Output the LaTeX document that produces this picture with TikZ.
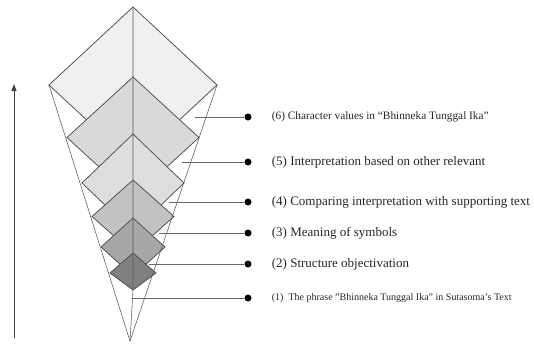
\documentclass[tikz,border=0pt]{standalone}
\usepackage{fontspec}
\setmainfont{Liberation Serif}
\usetikzlibrary{arrows.meta,positioning}
\tikzset{dia/.style={draw=black!70,line width=0.75pt,line join=miter},cone/.style={draw=black!65,line width=0.55pt},lead/.style={draw=black!60,line width=0.8pt},dot/.style={circle,fill=black,inner sep=0pt,minimum size=7pt},lab/.style={inner sep=0pt,anchor=west,text=black!85,font=\fontsize{13}{15}\selectfont}}
\begin{document}
\begin{tikzpicture}[x=1pt,y=-1pt]
\useasboundingbox(0,0)rectangle(534,343);
% nested diamonds, largest first
\foreach \t/\m/\w/\b/\f [count=\i] in {7/85/84/163/6,77/137.5/66/198/15,134/183/51/232/13,180/216.5/41/253/24,218/247/32/276/35,253/273/23/290/50}{
\draw[dia,fill=black!\f](133,\t)coordinate(top\i)--({133-\w},\m)coordinate(lft\i)--(133,\b)coordinate(bot\i)--({133+\w},\m)coordinate(rgt\i)--cycle;}
\coordinate(apex)at(130,341);
\draw[cone](lft1)--(apex)--(rgt1);
\draw[cone](top1)--(bot6)--(apex);
% leaders and labels
\coordinate(s6)at(195,117);\coordinate(s5)at(182,162);\coordinate(s4)at(169,202);
\coordinate(s3)at(159,233);\coordinate(s2)at(149,264);\coordinate(s1)at(133,298);
\foreach \i/\y in {6/117,5/162,4/202,3/233,2/264,1/298}{
\node[dot](d\i)at(248,\y){};\draw[lead](s\i)--(d\i);}
\node[lab,right=20pt of d6,font=\fontsize{11.3}{13}\selectfont](t6){(6) Character values in “Bhinneka Tunggal Ika”};
\node[lab,right=20pt of d5](t5){(5) Interpretation based on other relevant};
\node[lab,right=20pt of d4](t4){(4) Comparing interpretation with supporting text};
\node[lab,right=20pt of d3](t3){(3) Meaning of symbols};
\node[lab,right=20pt of d2](t2){(2) Structure objectivation};
\node[lab,right=20pt of d1,font=\fontsize{10}{12}\selectfont](t1){(1)\ \ The phrase "Bhinneka Tunggal Ika" in Sutasoma's Text};
% level arrow
\coordinate(a0)at(14,338);\coordinate(a1)at(14,84);
\draw[black!75,line width=1pt,-{Triangle[length=7pt,width=5pt]}](a0)--(a1);
\end{tikzpicture}
\end{document}
